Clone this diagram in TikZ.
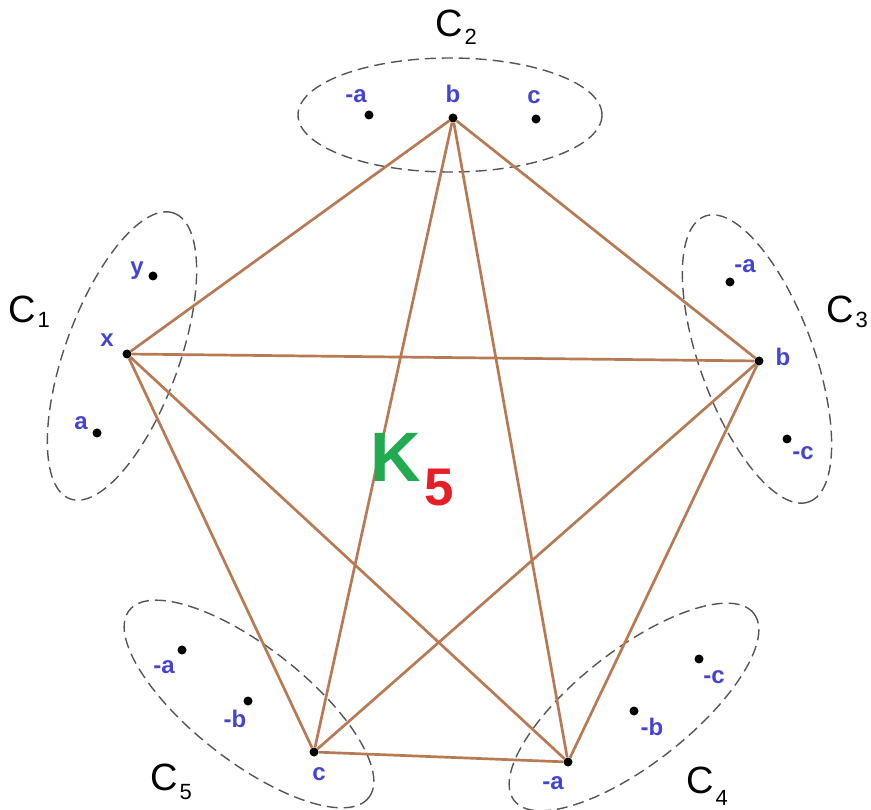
\documentclass[tikz,border=0pt]{standalone}
\usepackage{fontspec}
\setmainfont{Liberation Sans}
\usetikzlibrary{shapes.geometric}
\definecolor{edgebrown}{RGB}{184,122,84}
\definecolor{lblblue}{RGB}{68,68,210}
\definecolor{kgreen}{RGB}{34,170,80}
\definecolor{kred}{RGB}{230,30,40}
\definecolor{ringgray}{RGB}{85,85,85}
\begin{document}
\begin{tikzpicture}[x=1pt,y=-1pt,
  ring/.style={draw=ringgray, dash pattern=on 11pt off 6pt, line width=1.4pt, ellipse,
               minimum width=304pt, minimum height=114pt, inner sep=0pt},
  vdot/.style={circle, fill=black, inner sep=0pt, minimum size=9pt},
  lbl/.style={text=lblblue, font=\fontsize{24}{24}\selectfont\bfseries, anchor=base, inner sep=0pt},
  kedge/.style={draw=edgebrown, line width=2.7pt},
  clab/.style={anchor=base west, inner sep=0pt, font=\fontsize{38}{38}\selectfont}]
\useasboundingbox (0,0) rectangle (871,810);
\newcommand{\csub}[2]{C\kern2pt\raisebox{-#2pt}{\fontsize{22}{22}\selectfont #1}}
% rings
\node[ring] (r2) at (450,115) {};
\node[ring, rotate=70] (r1) at (122,356) {};
\node[ring, rotate=-70] (r3) at (757,359) {};
\node[ring, rotate=-38] (r5) at (249,704) {};
\node[ring, rotate=38] (r4) at (634,707) {};
% dots
\node[vdot] (c2a) at (369,115) {};
\node[vdot] (c2b) at (453,118) {};
\node[vdot] (c2c) at (536,119) {};
\node[vdot] (c1y) at (153,276) {};
\node[vdot] (c1x) at (127,354) {};
\node[vdot] (c1a) at (97,433) {};
\node[vdot] (c3a) at (730,282) {};
\node[vdot] (c3b) at (759,361) {};
\node[vdot] (c3c) at (787,439) {};
\node[vdot] (c5a) at (182,650) {};
\node[vdot] (c5b) at (248,701) {};
\node[vdot] (c5c) at (314,752) {};
\node[vdot] (c4c) at (699,659) {};
\node[vdot] (c4b) at (634,711) {};
\node[vdot] (c4a) at (568,762) {};
% K5 edges
\foreach \u/\v in {c2b/c1x, c2b/c3b, c2b/c4a, c2b/c5c, c1x/c3b, c1x/c4a, c1x/c5c, c3b/c4a, c3b/c5c, c4a/c5c}
  \draw[kedge] (\u) -- (\v);
% labels
\node[lbl] (l2a) at (356,103) {-a};
\node[lbl] (l2b) at (453,103) {b};
\node[lbl] (l2c) at (534,104) {c};
\node[lbl] (l1y) at (137,275) {y};
\node[lbl] (l1x) at (107,347) {x};
\node[lbl] (l1a) at (81,430) {a};
\node[lbl] (l3a) at (745,273) {-a};
\node[lbl] (l3b) at (783,366) {b};
\node[lbl] (l3c) at (803,460) {-c};
\node[lbl] (l5a) at (164,673) {-a};
\node[lbl] (l5b) at (235,727) {-b};
\node[lbl] (l5c) at (319,780) {c};
\node[lbl] (l4c) at (714,683) {-c};
\node[lbl] (l4b) at (652,735) {-b};
\node[lbl] (l4a) at (553,789) {-a};
% cluster names
\node[clab] (n2) at (435,37) {\csub{2}{8}};
\node[clab] (n1) at (8,323) {\csub{1}{5}};
\node[clab] (n3) at (826,323) {\csub{3}{5}};
\node[clab] (n5) at (150,790) {\csub{5}{9}};
\node[clab] (n4) at (686,793) {\csub{4}{12}};
% K5
\node[anchor=base, inner sep=0pt, text=kgreen, font=\fontsize{70}{70}\selectfont\bfseries] (kk) at (395.5,482) {K};
\node[anchor=base, inner sep=0pt, text=kred, font=\fontsize{53}{53}\selectfont\bfseries] (k5) at (439.5,505) {5};
\end{tikzpicture}
\end{document}
